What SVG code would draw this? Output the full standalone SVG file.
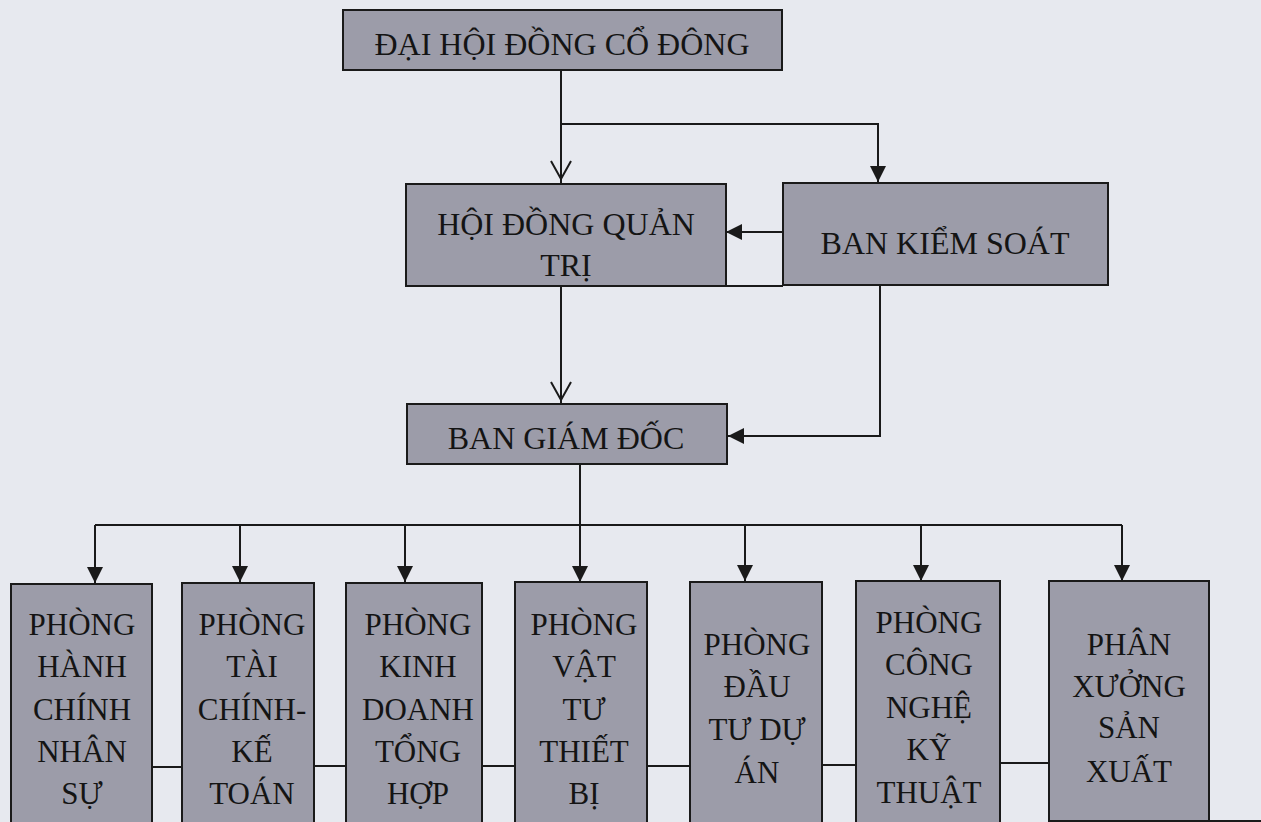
<svg xmlns="http://www.w3.org/2000/svg" width="1261" height="822" viewBox="0 0 1261 822">
<defs>
<style>
.box{fill:#9c9ca9;stroke:#1a1a1a;stroke-width:2}
.t{font-family:"Liberation Serif","Times New Roman",serif;font-size:32px;fill:#141414;text-anchor:middle}
.s{font-size:31px}
.ln{fill:none;stroke:#1a1a1a;stroke-width:2}
.open{marker-end:url(#mOpen)}
.fill{marker-end:url(#mFill)}
</style>
<marker id="mOpen" markerUnits="userSpaceOnUse" viewBox="-22 -12 26 24" refX="4" refY="0" markerWidth="26" markerHeight="24" orient="auto">
<path d="M-18,-10 L0,0 L-18,10" fill="none" stroke="#1a1a1a" stroke-width="2"/>
</marker>
<marker id="mFill" markerUnits="userSpaceOnUse" viewBox="-18 -10 20 20" refX="0" refY="0" markerWidth="20" markerHeight="20" orient="auto">
<path d="M-16,-8 L0,0 L-16,8 Z" fill="#1a1a1a"/>
</marker>
</defs>
<rect x="0" y="0" width="1261" height="822" fill="#e7e9ef"/>

<g id="connectors">
<path class="ln open" d="M561,70 V183"/>
<path class="ln fill" d="M561,124 H878 V182"/>
<path class="ln fill" d="M783,232 H726"/>
<path class="ln" d="M725,286 H783"/>
<path class="ln open" d="M561,286 V404"/>
<path class="ln fill" d="M880,285 V436 H728"/>
<path class="ln" d="M580,464 V525"/>
<path class="ln" d="M95,525 H1122"/>
<path class="ln fill" d="M95,525 V583"/>
<path class="ln fill" d="M240,525 V582"/>
<path class="ln fill" d="M405,525 V582"/>
<path class="ln fill" d="M580,525 V582"/>
<path class="ln fill" d="M745,525 V581"/>
<path class="ln fill" d="M921,525 V581"/>
<path class="ln fill" d="M1122,525 V581"/>
<path class="ln" d="M152,767 H182"/>
<path class="ln" d="M314,766 H346"/>
<path class="ln" d="M482,766 H515"/>
<path class="ln" d="M647,766 H690"/>
<path class="ln" d="M822,765 H856"/>
<path class="ln" d="M1000,763 H1049"/>
<path class="ln" d="M1209,821 H1261"/>
</g>

<g id="dhdcd">
<rect class="box" x="343" y="10" width="439" height="60"/>
<text class="t" x="562" y="55">ĐẠI HỘI ĐỒNG CỔ ĐÔNG</text>
</g>
<g id="hdqt">
<rect class="box" x="406" y="184" width="320" height="102"/>
<text class="t" x="566" y="235">HỘI ĐỒNG QUẢN</text>
<text class="t" x="566" y="276">TRỊ</text>
</g>
<g id="bks">
<rect class="box" x="783" y="183" width="325" height="102"/>
<text class="t" x="945" y="254">BAN KIỂM SOÁT</text>
</g>
<g id="bgd">
<rect class="box" x="407" y="404" width="320" height="60"/>
<text class="t" x="566" y="449">BAN GIÁM ĐỐC</text>
</g>

<g id="p1">
<rect class="box" x="11" y="584" width="141" height="250"/>
<text class="t s" x="82"><tspan x="82" y="635">PHÒNG</tspan><tspan x="82" y="677">HÀNH</tspan><tspan x="82" y="720">CHÍNH</tspan><tspan x="82" y="762">NHÂN</tspan><tspan x="82" y="804">SỰ</tspan></text>
</g>
<g id="p2">
<rect class="box" x="182" y="583" width="132" height="250"/>
<text class="t s" x="252"><tspan x="252" y="635">PHÒNG</tspan><tspan x="252" y="677">TÀI</tspan><tspan x="252" y="720">CHÍNH-</tspan><tspan x="252" y="762">KẾ</tspan><tspan x="252" y="804">TOÁN</tspan></text>
</g>
<g id="p3">
<rect class="box" x="346" y="583" width="136" height="250"/>
<text class="t s" x="418"><tspan x="418" y="635">PHÒNG</tspan><tspan x="418" y="677">KINH</tspan><tspan x="418" y="720">DOANH</tspan><tspan x="418" y="762">TỔNG</tspan><tspan x="418" y="804">HỢP</tspan></text>
</g>
<g id="p4">
<rect class="box" x="515" y="582" width="132" height="250"/>
<text class="t s" x="584"><tspan x="584" y="635">PHÒNG</tspan><tspan x="584" y="677">VẬT</tspan><tspan x="584" y="720">TƯ</tspan><tspan x="584" y="762">THIẾT</tspan><tspan x="584" y="804">BỊ</tspan></text>
</g>
<g id="p5">
<rect class="box" x="690" y="582" width="132" height="250"/>
<text class="t s" x="757"><tspan x="757" y="655">PHÒNG</tspan><tspan x="757" y="697">ĐẦU</tspan><tspan x="757" y="740">TƯ DỰ</tspan><tspan x="757" y="783">ÁN</tspan></text>
</g>
<g id="p6">
<rect class="box" x="856" y="581" width="144" height="250"/>
<text class="t s" x="929"><tspan x="929" y="633">PHÒNG</tspan><tspan x="929" y="675">CÔNG</tspan><tspan x="929" y="718">NGHỆ</tspan><tspan x="929" y="760">KỸ</tspan><tspan x="929" y="803">THUẬT</tspan></text>
</g>
<g id="p7">
<rect class="box" x="1049" y="581" width="160" height="240"/>
<text class="t s" x="1129"><tspan x="1129" y="655">PHÂN</tspan><tspan x="1129" y="697">XƯỞNG</tspan><tspan x="1129" y="738">SẢN</tspan><tspan x="1129" y="782">XUẤT</tspan></text>
</g>
</svg>
